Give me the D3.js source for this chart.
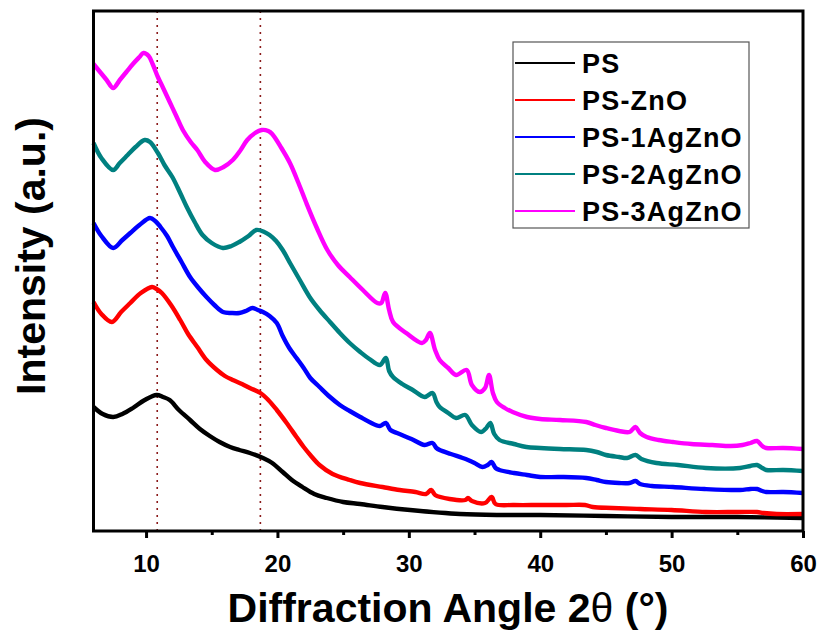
<!DOCTYPE html>
<html><head><meta charset="utf-8">
<script src="https://cdn.jsdelivr.net/npm/d3@7"></script>
<style>
body{margin:0;background:#fff;}
text{font-family:"Liberation Sans",Arial,sans-serif;font-weight:bold;}
</style></head>
<body><svg id="c" width="819" height="633"></svg>
<script>
// Series data: [2θ (deg), intensity (a.u.)]
const seriesNames = ["PS","PS-ZnO","PS-1AgZnO","PS-2AgZnO","PS-3AgZnO"];
const seriesColors = ["#000000","#FF0000","#0000FF","#008080","#FF00FF"];
const ps = [[6.0,124],[6.7,117],[7.5,114],[8.2,117],[9.0,123],[9.9,131],[10.8,136],[11.3,134],[11.8,131],[12.5,121],[13.35,111],[14.1,102],[14.85,95],[15.6,89],[16.4,84],[17.1,81],[17.9,78],[18.9,73],[19.6,68],[20.4,59],[21.1,51],[21.9,44],[22.8,37],[23.75,33],[25.0,29],[26.3,27],[28.0,24],[30.1,21],[33.9,17],[37,16],[40,16],[45,15],[50,14],[55,14],[60,13]];
const psZnO = [[6.0,229],[6.6,217],[7.4,209],[8.1,219],[8.8,228],[9.6,238],[10.45,244],[10.8,242],[11.2,238],[11.9,226],[12.6,211],[13.2,197],[13.9,184],[14.6,171],[15.4,161],[16.0,155],[16.6,151],[17.3,147],[17.9,143],[18.7,138],[19.3,131],[19.95,121],[20.7,108],[21.45,94],[22.0,84],[22.5,76],[23.2,66],[24.2,57],[25.5,51],[26.3,48],[28.0,44],[29.3,41],[30.5,39],[31.3,37],[31.7,41],[32.0,36],[33.1,32],[34.3,31],[34.5,33],[34.8,30],[35.8,28],[36.3,34],[36.6,27],[38.0,26],[40.0,26],[42.0,26],[43.4,26],[44.0,24],[45.5,23],[47.6,22],[50.0,21],[52.6,19],[55.0,19],[56.5,19],[57.0,18],[58.0,17],[60,17]];
const ps1Ag = [[6.0,308],[6.6,295],[7.5,283],[8.2,291],[8.8,298],[9.5,306],[10.3,313],[10.7,310],[11.1,304],[11.6,295],[12.05,284],[12.7,269],[13.35,254],[14.0,243],[14.6,234],[15.2,226],[15.85,219],[16.5,218],[17.1,218],[17.6,220],[18.1,223],[18.5,221],[18.9,219],[19.4,215],[19.95,208],[20.4,195],[20.9,183],[21.45,173],[22.0,163],[22.5,153],[23.2,144],[24.0,134],[24.75,126],[25.5,120],[26.3,114],[27.0,109],[27.8,105],[28.25,108],[28.6,101],[29.1,98],[30.2,92],[31.2,86],[31.8,88],[32.1,83],[32.35,81],[33.2,77],[34.1,73],[34.5,71],[35.0,68],[35.6,64],[36.0,66],[36.3,69],[36.6,63],[36.9,61],[38.0,58],[39.0,56],[40.0,54],[41.5,54],[43.5,53],[44.3,51],[45.0,49],[46.0,48],[46.8,48],[47.25,50],[47.6,47],[48.5,45],[50.1,44],[52.5,42],[55.2,41],[56.0,42],[56.5,42],[56.9,40],[57.2,39],[58.5,39],[60,38]];
const ps2Ag = [[6.0,388],[6.6,373],[7.5,361],[8.0,368],[8.6,376],[9.2,384],[9.9,391],[10.3,389],[10.9,378],[11.4,366],[12.0,354],[12.6,338],[13.1,324],[13.7,309],[14.3,296],[15.0,288],[15.85,283],[16.5,285],[17.1,289],[17.8,295],[18.4,301],[19.0,299],[19.4,296],[19.9,290],[20.4,281],[21.0,267],[21.7,251],[22.5,233],[23.2,221],[24.0,209],[24.75,198],[25.5,188],[26.3,179],[27.0,172],[27.8,166],[28.25,173],[28.5,160],[28.8,154],[29.5,147],[30.3,141],[31.2,134],[31.8,138],[32.1,129],[32.35,124],[33.0,118],[33.6,113],[34.3,116],[34.8,106],[35.5,99],[35.9,103],[36.2,108],[36.5,97],[36.9,91],[38.0,87],[38.95,84],[40.0,83],[41.5,82],[43.5,81],[44.3,79],[45.0,76],[46.0,74],[46.6,73],[47.25,76],[47.7,72],[48.85,68],[50.5,66],[52.6,63],[55.2,63],[56.0,65],[56.5,66],[56.9,63],[57.2,61],[58.5,61],[60,60]];
const ps3Ag = [[6.0,467],[6.5,459],[7.0,451],[7.5,443],[8.0,451],[8.5,459],[9.0,467],[9.5,474],[9.8,478],[10.2,475],[10.5,467],[10.9,454],[11.3,443],[11.8,429],[12.3,415],[12.8,401],[13.4,389],[13.9,381],[14.5,369],[15.25,361],[15.9,364],[16.6,371],[17.2,381],[17.7,391],[18.3,398],[18.8,401],[19.3,400],[19.6,397],[20.3,383],[20.95,368],[21.6,348],[22.2,328],[23.0,303],[23.8,281],[24.6,266],[25.5,254],[26.5,241],[27.6,228],[27.9,228],[28.2,238],[28.5,221],[28.8,209],[29.8,198],[31.0,188],[31.3,191],[31.6,198],[32.0,181],[32.35,171],[33.0,163],[33.6,156],[34.4,161],[34.8,146],[35.4,139],[35.8,143],[36.1,156],[36.4,138],[36.7,129],[37.3,123],[37.9,119],[39,114],[40.0,112],[41.5,111],[43.5,109],[44.2,106],[45.0,103],[46.0,100],[46.8,99],[47.25,104],[47.6,98],[48.1,94],[49,91],[50.1,89],[51.5,87],[53.1,86],[54.5,85],[55.4,86],[56.0,88],[56.5,90],[56.9,85],[57.2,83],[58.5,83],[60,82]];
const seriesData = [ps, psZnO, ps1Ag, ps2Ag, ps3Ag];
const majorTicks = [10,20,30,40,50,60];
const minorTicks = [15,25,35,45,55];
const refLines = [10.85, 18.7];
const xDomain = [6, 60];
const yDomain = [0, 520];

const svg = d3.select("#c");
const L = 93.5, R = 803, T = 11, B = 531;
const x = d3.scaleLinear().domain(xDomain).range([L, R]);
const y = d3.scaleLinear().domain(yDomain).range([B, T]);

// reference dotted lines
svg.selectAll(".ref").data(refLines).enter().append("line")
  .attr("x1", d => x(d)).attr("x2", d => x(d)).attr("y1", T).attr("y2", B)
  .attr("stroke", "#8B1A1A").attr("stroke-width", 1.6).attr("stroke-dasharray", "2,5");

// curves
const line = d3.line().x(d => x(d[0])).y(d => y(d[1])).curve(d3.curveCatmullRom.alpha(0.5));
seriesData.forEach((s, i) => {
  svg.append("path").datum(s).attr("d", line).attr("fill", "none")
    .attr("stroke", seriesColors[i]).attr("stroke-width", 4.4).attr("stroke-linejoin", "round");
});

// axes
const gx = svg.append("g").attr("transform", `translate(0,${B})`)
  .call(d3.axisBottom(x).tickValues(majorTicks).tickSize(7).tickPadding(17).tickFormat(d3.format("d")));
gx.select(".domain").remove();
gx.selectAll("line").attr("stroke", "#000").attr("stroke-width", 3);
gx.selectAll("text").attr("font-size", 24).attr("font-family", "Liberation Sans, Arial").attr("font-weight", "bold").attr("fill", "#000");
const gm = svg.append("g").attr("transform", `translate(0,${B})`)
  .call(d3.axisBottom(x).tickValues(minorTicks).tickSize(4).tickFormat(""));
gm.select(".domain").remove();
gm.selectAll("line").attr("stroke", "#000").attr("stroke-width", 3);

// frame
svg.append("rect").attr("x", L).attr("y", T).attr("width", R - L).attr("height", B - T)
  .attr("fill", "none").attr("stroke", "#000").attr("stroke-width", 3);

// axis titles
const xt = svg.append("text").attr("x", 448).attr("y", 622).attr("text-anchor", "middle")
  .attr("font-size", 41).attr("fill", "#000");
xt.append("tspan").text("Diffraction Angle 2");
xt.append("tspan").attr("font-weight", "normal").text("θ");
xt.append("tspan").text(" (°)");

svg.append("text").attr("transform", "translate(45,256) rotate(-90)").attr("text-anchor", "middle")
  .attr("font-size", 41).attr("fill", "#000").text("Intensity (a.u.)");

// legend
const lg = svg.append("g");
lg.append("rect").attr("x", 513).attr("y", 42).attr("width", 236).attr("height", 186)
  .attr("fill", "#fff").attr("stroke", "#555").attr("stroke-width", 1.2);
seriesNames.forEach((n, i) => {
  const yy = 63 + i * 37;
  lg.append("line").attr("x1", 515).attr("x2", 575).attr("y1", yy).attr("y2", yy)
    .attr("stroke", seriesColors[i]).attr("stroke-width", 2.2);
  lg.append("text").attr("x", 582).attr("y", yy + 9.5).attr("font-size", 27)
    .attr("letter-spacing", 1.2).attr("fill", "#000").text(n);
});
</script></body></html>
